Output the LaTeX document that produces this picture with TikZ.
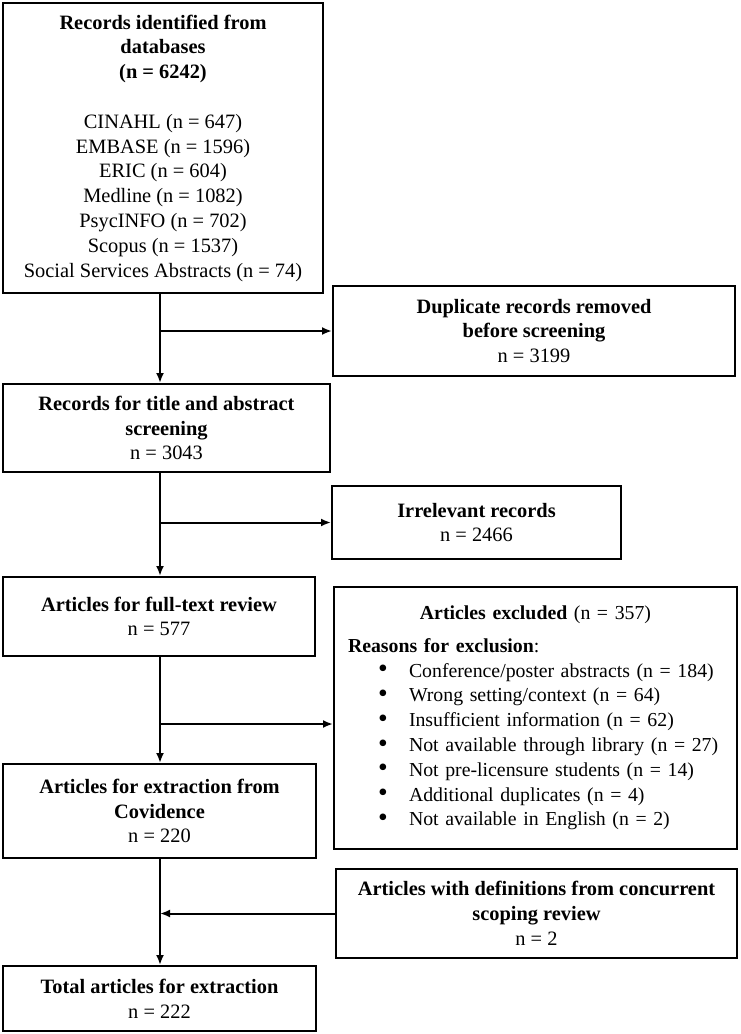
\documentclass[tikz,border=0pt]{standalone}
\usepackage{fontspec}
\setmainfont{Liberation Serif}
\usetikzlibrary{arrows.meta}

\newcommand{\reason}[1]{\hspace*{18pt}\makebox[15.5pt][l]{\smash{\raisebox{-0.3pt}{\scalebox{1.4}{\textbullet}}}}#1\par}

\begin{document}
\begin{tikzpicture}[x=0.5pt,y=-0.5pt,
    box/.style={draw, line width=1pt, align=center, inner sep=0pt,
      font=\fontsize{10.2}{12.4}\selectfont},
    arr/.style={line width=1pt, -{Latex[length=5pt, width=4pt]}}]
  \useasboundingbox (0,0) rectangle (740,1034);

  % main column
  \node[box, minimum width=160pt, minimum height=145pt] (db) at (163,148)
    {\textbf{Records identified from}\\ \textbf{databases}\\ \textbf{(n = 6242)}\\[12.4pt]
     CINAHL (n = 647)\\ EMBASE (n = 1596)\\ ERIC (n = 604)\\ Medline (n = 1082)\\
     PsycINFO (n = 702)\\ Scopus (n = 1537)\\ Social Services Abstracts (n = 74)};
  \node[box, minimum width=163.5pt, minimum height=44pt] (title) at (166.5,428)
    {\textbf{Records for title and abstract}\\ \textbf{screening}\\ n = 3043};
  \node[box, minimum width=156pt, minimum height=39.5pt] (full) at (159,616.5)
    {\textbf{Articles for full-text review}\\ n = 577};
  \node[box, minimum width=156.5pt, minimum height=47pt] (extr) at (159.5,811)
    {\textbf{Articles for extraction from}\\ \textbf{Covidence}\\ n = 220};
  \node[box, minimum width=156.5pt, minimum height=32.5pt] (total) at (159.5,998.5)
    {\textbf{Total articles for extraction}\\ n = 222};

  % side boxes
  \node[box, minimum width=201pt, minimum height=45pt] (dup) at (534,331)
    {\textbf{Duplicate records removed}\\ \textbf{before screening}\\ n = 3199};
  \node[box, minimum width=144.5pt, minimum height=36.5pt] (irr) at (476.5,522.5)
    {\textbf{Irrelevant records}\\ n = 2466};
  \node[box, align=left, text width=193.5pt, inner xsep=4pt, minimum height=131pt,
      font=\fontsize{9.9}{12.4}\selectfont] (excl) at (535.5,718)
    {{\centering\textbf{Articles excluded} (n = 357)\par}\vspace{4pt}
     \hspace*{3pt}\textbf{Reasons for exclusion}:\par
     \reason{Conference/poster abstracts (n = 184)}
     \reason{Wrong setting/context (n = 64)}
     \reason{Insufficient information (n = 62)}
     \reason{Not available through library (n = 27)}
     \reason{Not pre-licensure students (n = 14)}
     \reason{Additional duplicates (n = 4)}
     \reason{Not available in English (n = 2)}\vspace{-4.5pt}};
  \node[box, minimum width=200.5pt, minimum height=44.5pt] (conc) at (536.5,913.5)
    {\textbf{Articles with definitions from concurrent}\\ \textbf{scoping review}\\ n = 2};

  \coordinate (trunk) at (160,0);

  % flow
  \draw[arr] (db.south -| trunk) -- (title.north -| trunk);
  \draw[arr] (trunk |- dup.west) -- (dup.west);
  \draw[arr] (title.south -| trunk) -- (full.north -| trunk);
  \draw[arr] (trunk |- irr.west) -- (irr.west);
  \draw[arr] (full.south -| trunk) -- (extr.north -| trunk);
  \draw[arr] ([yshift=-3pt]excl.west -| trunk) -- ([yshift=-3pt]excl.west);
  \draw[arr] (extr.south -| trunk) -- (total.north -| trunk);
  \draw[arr] (conc.west) -- (conc.west -| trunk);
\end{tikzpicture}
\end{document}
